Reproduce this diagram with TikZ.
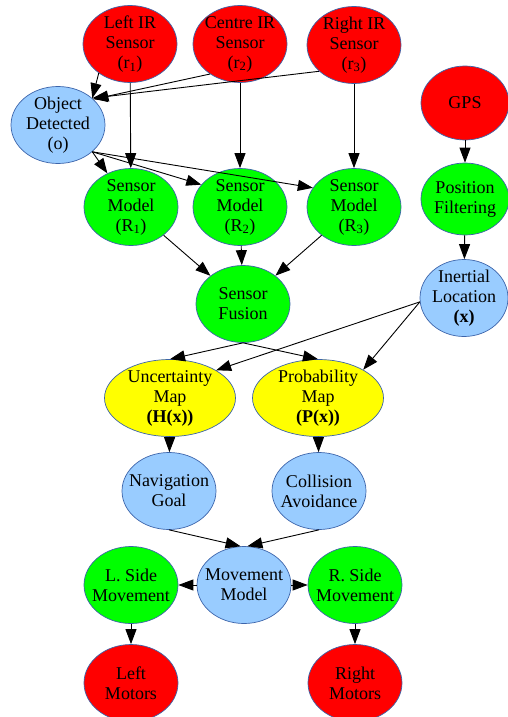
\documentclass[tikz,border=0pt]{standalone}
\usepackage{fontspec}
\setmainfont{Liberation Serif}
\usetikzlibrary{shapes.geometric,arrows.meta}
\definecolor{nred}{RGB}{255,0,0}
\definecolor{ngreen}{RGB}{0,255,0}
\definecolor{nblue}{RGB}{153,204,255}
\definecolor{nyellow}{RGB}{255,255,0}
\definecolor{nedge}{RGB}{60,100,170}
\tikzset{
  nd/.style={ellipse, draw=nedge, line width=0.7pt, inner sep=-40pt, align=center,
     minimum width=94pt, minimum height=77pt, font=\fontsize{18}{20}\selectfont},
  rednd/.style={nd, fill=nred},
  grnnd/.style={nd, fill=ngreen},
  blund/.style={nd, fill=nblue},
  ylwnd/.style={nd, fill=nyellow, minimum width=131pt},
  conn/.style={draw=black, line width=0.9pt, -{Triangle[length=15pt,width=11pt]}}
}
\begin{document}
\begin{tikzpicture}[x=1pt,y=-1pt]
\useasboundingbox (0,0) rectangle (508,717);
\node[rednd] (lir) at (130,44) {Left IR\\Sensor\\(r\textsubscript{1})};
\node[rednd] (cir) at (240,44) {Centre IR\\Sensor\\(r\textsubscript{2})};
\node[rednd] (rir) at (354,45) {Right IR\\Sensor\\(r\textsubscript{3})};
\node[rednd, minimum width=88pt, minimum height=74pt] (gps) at (465,103) {GPS};
\node[blund] (obj) at (58,125) {Object\\Detected\\(o)};
\node[grnnd] (r1) at (131,207) {Sensor\\Model\\(R\textsubscript{1})};
\node[grnnd] (r2) at (240,207) {Sensor\\Model\\(R\textsubscript{2})};
\node[grnnd] (r3) at (354,207) {Sensor\\Model\\(R\textsubscript{3})};
\node[grnnd, minimum width=88pt, minimum height=72pt] (pos) at (465,199) {Position\\Filtering};
\node[grnnd] (fus) at (243,304) {Sensor\\Fusion};
\node[blund, minimum width=88pt] (ine) at (464,298) {Inertial\\Location\\\textbf{(x)}};
\node[ylwnd] (unc) at (170,398) {Uncertainty\\Map\\\textbf{(H(x))}};
\node[ylwnd] (prob) at (318,398) {Probability\\Map\\\textbf{(P(x))}};
\node[blund] (nav) at (169,491) {Navigation\\Goal};
\node[blund] (col) at (319,491) {Collision\\Avoidance};
\node[blund] (mov) at (244,585) {Movement\\Model};
\node[grnnd] (ls) at (131,585) {L. Side\\Movement};
\node[grnnd] (rs) at (355,585) {R. Side\\Movement};
\node[rednd] (lm) at (131,683) {Left\\Motors};
\node[rednd] (rm) at (355,683) {Right\\Motors};
% edges
\draw[conn] (lir.-137) -- (obj.38);
\draw[conn] (cir.-135) -- (obj.36);
\draw[conn] (rir.-143) -- (obj.38);
\draw[conn] (lir) -- (r1);
\draw[conn] (cir) -- (r2);
\draw[conn] (rir) -- (r3);
\draw[conn] (obj.-38) -- (r1);
\draw[conn] (obj.-38) -- (r2.150);
\draw[conn] (obj.-38) -- (r3.155);
\draw[conn] (gps) -- (pos);
\draw[conn] (r1) -- (fus);
\draw[conn] (r2) -- (fus);
\draw[conn] (r3) -- (fus);
\draw[conn] (pos) -- (ine);
\draw[conn] (fus.south) -- (unc.north);
\draw[conn] (fus.south) -- (prob.north);
\draw[conn] (ine.185) -- (unc.31);
\draw[conn] (ine.185) -- (prob.32);
\draw[conn] (unc) -- (nav);
\draw[conn] (prob) -- (col);
\draw[conn] (nav.south) -- (mov.95);
\draw[conn] (col.south) -- (mov.85);
\draw[conn] (mov) -- (ls);
\draw[conn] (mov) -- (rs);
\draw[conn] (ls) -- (lm);
\draw[conn] (rs) -- (rm);
\end{tikzpicture}
\end{document}
